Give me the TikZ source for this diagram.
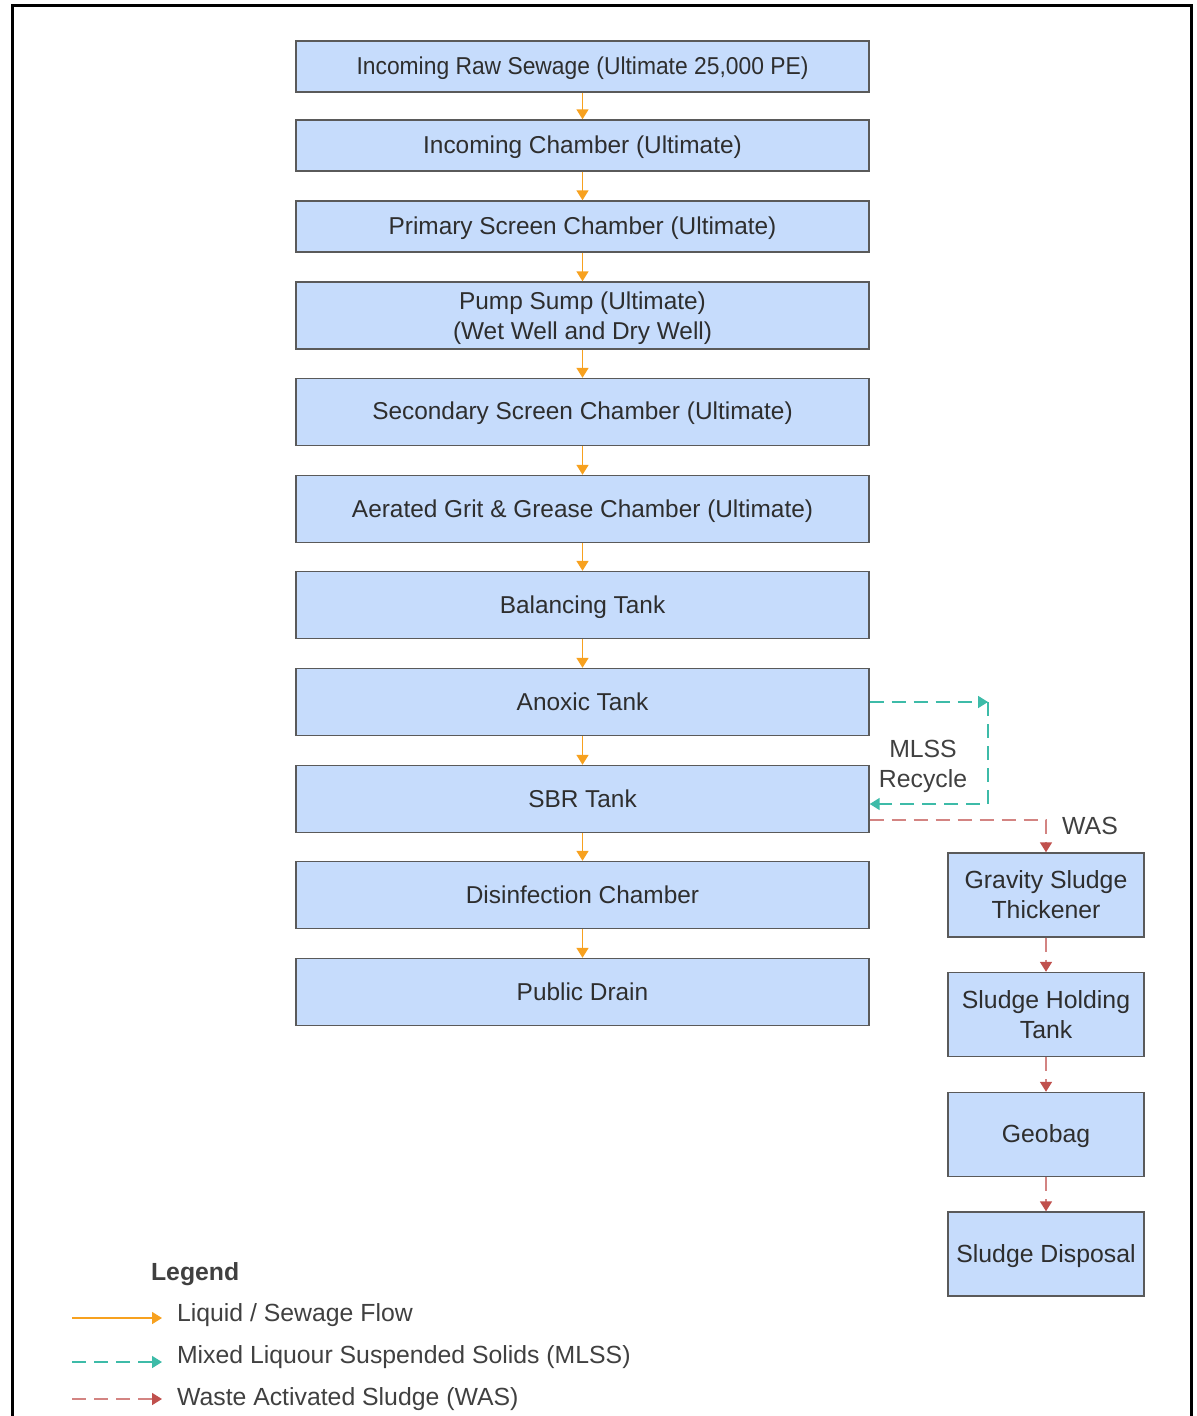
\documentclass[tikz,border=0pt]{standalone}
\usepackage{fontspec}
\setmainfont{Liberation Sans}
\usetikzlibrary{arrows.meta}
\definecolor{boxfill}{HTML}{C6DCFC}
\definecolor{boxline}{HTML}{5A5A5A}
\definecolor{flow}{HTML}{F7A11F}
\definecolor{mlss}{HTML}{3DBBA8}
\definecolor{was}{HTML}{C0504D}
\definecolor{txt}{HTML}{2E2E2E}
\definecolor{lbl}{HTML}{404040}
\tikzstyle{unit}=[draw=boxline, fill=boxfill, line width=0.7pt, text=txt,
    align=center, inner sep=0pt, minimum width=286.5pt, minimum height=33.5pt,
    font=\fontsize{12.2}{15}\selectfont]
\tikzstyle{one}=[text height=9pt, text depth=1pt]
\tikzstyle{thin}=[unit, one, minimum height=25.5pt]
\tikzstyle{sl}=[unit, minimum width=98pt, minimum height=42pt,
    font=\fontsize{12.4}{15}\selectfont]
\tikzstyle{liq}=[draw=flow, line width=0.8pt, -{Triangle[length=5pt,width=6pt]}]
\tikzstyle{rec}=[draw=mlss, line width=0.8pt, dash pattern=on 7pt off 4pt,
    -{Triangle[length=5pt,width=6pt]}]
\tikzstyle{wa}=[draw=was!70!white, line width=0.8pt, dash pattern=on 7pt off 4pt,
    -{Triangle[length=5pt,width=6pt,fill=was,color=was]}]
\tikzstyle{lab}=[text=lbl, font=\fontsize{12.4}{15}\selectfont, align=center]

\begin{document}
\begin{tikzpicture}[x=0.5pt, y=-0.5pt]
    \useasboundingbox (0,0) rectangle (1196,1416);
    \draw[line width=1.5pt] (12.5,1416) -- (12.5,6) -- (1191,6) -- (1191,1416);
    % main flow
    \node (raw) [thin] at (582.5,66.5) {\scalebox{0.936}[1]{Incoming Raw Sewage (Ultimate 25,000 PE)}};
    \node (inc) [thin] at (582.5,145.5) {Incoming Chamber (Ultimate)};
    \node (prim) [thin] at (582.5,226.5) {Primary Screen Chamber (Ultimate)};
    \node (pump) [unit, text height=26.9pt] at (582.5,315.5) {Pump Sump (Ultimate)\\(Wet Well and Dry Well)};
    \node (sec) [unit, one] at (582.5,412) {Secondary Screen Chamber (Ultimate)};
    \node (grit) [unit, one] at (582.5,509) {Aerated Grit \& Grease Chamber (Ultimate)};
    \node (bal) [unit, one] at (582.5,605) {Balancing Tank};
    \node (anox) [unit, one] at (582.5,702) {Anoxic Tank};
    \node (sbr) [unit, one] at (582.5,799) {SBR Tank};
    \node (dis) [unit, one] at (582.5,895) {Disinfection Chamber};
    \node (drain) [unit, one] at (582.5,992) {Public Drain};
    % sludge line
    \node (grav) [sl] at (1046,895) {Gravity Sludge\\Thickener};
    \node (hold) [sl] at (1046,1014.5) {Sludge Holding\\Tank};
    \node (geo) [sl, one] at (1046,1134.5) {Geobag};
    \node (disp) [sl, one] at (1046,1254) {Sludge Disposal};
    \foreach \a/\b in {raw/inc, inc/prim, prim/pump, pump/sec, sec/grit,
        grit/bal, bal/anox, anox/sbr, sbr/dis, dis/drain}
        \draw[liq] (\a) -- (\b);
    \foreach \a/\b in {grav/hold, hold/geo, geo/disp}
        \draw[wa] (\a) -- (\b);
    % recycle and wasting
    \coordinate (m1) at (988,702);
    \coordinate (m2) at (988,804);
    \coordinate (w1) at (1046,820);
    \draw[rec] (anox.east) -- (m1);
    \draw[rec] (m1) -- (m2) -- (sbr.east |- m2);
    \node (mlab) [lab] at (923,766) {MLSS\\Recycle};
    \draw[wa] (sbr.east |- w1) -- (w1) -- (grav);
    \node (wlab) [lab] at (1090,826) {WAS};
    % legend
    \node (leg) [lab, anchor=west] at (144,1274) {\bfseries Legend};
    \coordinate (la1) at (72,1318);  \coordinate (lb1) at (162,1318);
    \coordinate (la2) at (72,1362);  \coordinate (lb2) at (162,1362);
    \coordinate (la3) at (72,1399);  \coordinate (lb3) at (162,1399);
    \draw[liq] (la1) -- (lb1);
    \draw[rec] (la2) -- (lb2);
    \draw[wa] (la3) -- (lb3);
    \node (t1) [lab, anchor=west] at (170,1315) {Liquid / Sewage Flow};
    \node (t2) [lab, anchor=west] at (170,1357) {Mixed Liquour Suspended Solids (MLSS)};
    \node (t3) [lab, anchor=west] at (170,1399) {Waste Activated Sludge (WAS)};
\end{tikzpicture}
\end{document}
